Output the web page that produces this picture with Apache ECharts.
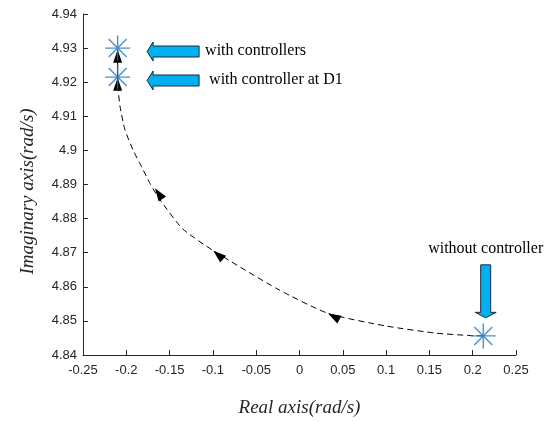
<!DOCTYPE html>
<html>
<head>
<meta charset="utf-8">
<script src="https://cdn.jsdelivr.net/npm/echarts@6/dist/echarts.min.js"></script>
<style>html,body{margin:0;padding:0;background:#fff}#c{width:553px;height:422px}</style>
</head>
<body>
<div id="c"></div>
<script>
// ---- data ----
var xTicks = [-0.25, -0.2, -0.15, -0.1, -0.05, 0, 0.05, 0.1, 0.15, 0.2, 0.25];
var yTicks = [4.84, 4.85, 4.86, 4.87, 4.88, 4.89, 4.9, 4.91, 4.92, 4.93, 4.94];
var xTickLabels = ['-0.25', '-0.2', '-0.15', '-0.1', '-0.05', '0', '0.05', '0.1', '0.15', '0.2', '0.25'];
var yTickLabels = ['4.84', '4.85', '4.86', '4.87', '4.88', '4.89', '4.9', '4.91', '4.92', '4.93', '4.94'];

// root locus path (dashed)
var pathX = [0.212, 0.197, 0.158, 0.10, 0.033, -0.025, -0.0995, -0.135, -0.161, -0.172, -0.182, -0.192, -0.2015, -0.2073, -0.2095, -0.21];
var pathY = [4.8456, 4.8457, 4.8464, 4.8485, 4.8522, 4.8593, 4.8706, 4.8770, 4.8855, 4.8900, 4.8950, 4.9000, 4.9060, 4.9130, 4.9180, 4.9215];

// short solid segment between the two controlled eigenvalues
var segX = [-0.21, -0.21];
var segY = [4.9215, 4.9295];

// eigenvalue markers
var starX = [0.2122, -0.21, -0.21];
var starY = [4.8456, 4.9215, 4.930];

// arrowheads: tip and a point behind it along the path
var headTipX = [0.033, -0.0995, -0.1669, -0.21, -0.21];
var headTipY = [4.8522, 4.8706, 4.8889, 4.9213, 4.9295];
var headFromX = [0.053, -0.0795, -0.1519, -0.21, -0.21];
var headFromY = [4.8494, 4.8662, 4.8834, 4.912, 4.9215];

// annotations
var annotLabels = ['with controllers', 'with controller at D1', 'without controller'];
var annotTipX = [-0.176, -0.176, 0.215];
var annotTipY = [4.929, 4.9205, 4.8509];
var annotDir = ['left', 'left', 'down'];

// ---- build ----
function zip(a, b) { return a.map(function (v, i) { return [v, b[i]]; }); }
function labelFor(ticks, labels, v) {
  for (var i = 0; i < ticks.length; i++) if (Math.abs(ticks[i] - v) < 1e-9) return labels[i];
  return '';
}
var axisColor = '#262626';
var chart = echarts.init(document.getElementById('c'), null, {renderer: 'canvas'});
var option = {
  animation: false,
  backgroundColor: '#ffffff',
  grid: {left: 83, right: 37, top: 14, bottom: 67},
  xAxis: {
    type: 'value', min: -0.25, max: 0.25, interval: 0.05,
    name: 'Real axis(rad/s)', nameLocation: 'middle', nameGap: 43,
    nameTextStyle: {fontFamily: 'Liberation Serif', fontStyle: 'italic', fontSize: 19, color: axisColor},
    axisLine: {onZero: false, lineStyle: {color: axisColor, width: 1}},
    axisTick: {inside: true, length: 5, lineStyle: {color: axisColor}},
    axisLabel: {margin: 9, fontFamily: 'Liberation Sans', fontSize: 13, color: axisColor,
      formatter: function (v) { return labelFor(xTicks, xTickLabels, v); }},
    splitLine: {show: false}
  },
  yAxis: {
    type: 'value', min: 4.84, max: 4.94, interval: 0.01,
    name: 'Imaginary axis(rad/s)', nameLocation: 'middle', nameGap: 46,
    nameTextStyle: {fontFamily: 'Liberation Serif', fontStyle: 'italic', fontSize: 19, color: axisColor,
      padding: [0, 14, 0, 0]},
    axisLine: {show: true, onZero: false, lineStyle: {color: axisColor, width: 1}},
    axisTick: {show: true, inside: true, length: 5, lineStyle: {color: axisColor}},
    axisLabel: {margin: 6, fontFamily: 'Liberation Sans', fontSize: 13, color: axisColor,
      formatter: function (v) { return labelFor(yTicks, yTickLabels, v); }},
    splitLine: {show: false}
  },
  series: [
    {
      type: 'line', data: zip(pathX, pathY), smooth: 0.2, showSymbol: false, z: 2,
      lineStyle: {color: '#000', width: 1, type: [6, 4]}
    },
    {
      type: 'line', data: zip(segX, segY), showSymbol: false, z: 2,
      lineStyle: {color: '#000', width: 1}
    },
    {
      type: 'custom', z: 3,
      data: headTipX.map(function (v, i) { return [v, headTipY[i], headFromX[i], headFromY[i]]; }),
      renderItem: function (params, api) {
        var tip = api.coord([api.value(0), api.value(1)]);
        var from = api.coord([api.value(2), api.value(3)]);
        var dx = tip[0] - from[0], dy = tip[1] - from[1];
        var len = Math.sqrt(dx * dx + dy * dy) || 1;
        var ux = dx / len, uy = dy / len;
        var L = 13, W = 4.5;
        var bx = tip[0] - ux * L, by = tip[1] - uy * L;
        return {
          type: 'polygon',
          shape: {points: [tip, [bx - uy * W, by + ux * W], [bx + uy * W, by - ux * W]]},
          style: {fill: '#000'}
        };
      }
    },
    {
      type: 'scatter', data: zip(starX, starY), z: 4,
      symbol: 'path://M0,-1L0,1M-1,0L1,0M-0.72,-0.72L0.72,0.72M-0.72,0.72L0.72,-0.72',
      symbolSize: 25,
      itemStyle: {color: 'rgba(0,0,0,0)', borderColor: '#1a74c4', borderWidth: 1.4}
    },
    {
      type: 'custom', z: 5,
      data: annotTipX.map(function (v, i) { return [v, annotTipY[i], i]; }),
      renderItem: function (params, api) {
        var p = api.coord([api.value(0), api.value(1)]);
        var i = api.value(2);
        var tx = p[0], ty = p[1], pts, tpos, talign;
        if (annotDir[i] === 'left') {
          pts = [[tx, ty], [tx + 6, ty - 9.5], [tx + 6, ty - 5.5], [tx + 52, ty - 5.5],
                 [tx + 52, ty + 5.5], [tx + 6, ty + 5.5], [tx + 6, ty + 9.5]];
          tpos = [tx + (i === 0 ? 58 : 62), ty - 1];
          talign = 'left';
        } else {
          pts = [[tx, ty], [tx - 10.5, ty - 5.5], [tx - 5, ty - 5.5], [tx - 5, ty - 53],
                 [tx + 5, ty - 53], [tx + 5, ty - 5.5], [tx + 10.5, ty - 5.5]];
          tpos = [tx, ty - 69];
          talign = 'center';
        }
        return {
          type: 'group',
          children: [
            {type: 'polygon', shape: {points: pts},
             style: {fill: '#00B0F0', stroke: '#1b2a3a', lineWidth: 1}},
            {type: 'text', x: tpos[0], y: tpos[1],
             style: {text: annotLabels[i], fill: '#000', font: '16px "Liberation Serif"',
                     textAlign: talign, textVerticalAlign: 'middle'}}
          ]
        };
      }
    }
  ]
};
chart.setOption(option);
</script>
</body>
</html>
